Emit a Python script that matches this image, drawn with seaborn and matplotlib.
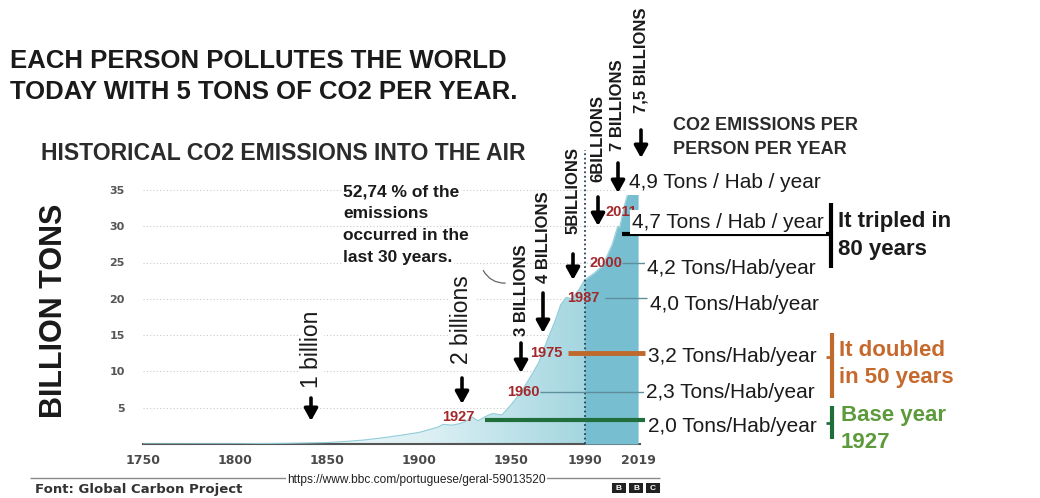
import numpy as np
import pandas as pd
import seaborn as sns
import matplotlib
matplotlib.use("Agg")
import matplotlib.pyplot as plt
from matplotlib.colors import LinearSegmentedColormap
from matplotlib.lines import Line2D
from matplotlib.patches import FancyArrowPatch, Rectangle
from matplotlib.transforms import Affine2D

# ---- data ----
years = [1750, 1800, 1830, 1850, 1860, 1870, 1880, 1890, 1900, 1910, 1913, 1918,
         1922, 1926, 1929, 1932, 1937, 1940, 1945, 1950, 1955, 1960, 1965, 1970,
         1974, 1977, 1980, 1983, 1987, 1990, 1995, 2000, 2002, 2005, 2008, 2009,
         2012, 2014, 2016, 2019]
emissions = [0.01, 0.03, 0.1, 0.2, 0.35, 0.55, 0.85, 1.2, 1.6, 2.3, 2.7, 2.6,
             2.8, 3.2, 3.7, 3.2, 3.9, 4.2, 4.0, 5.4, 7.0, 9.0, 11.2, 14.5,
             17.0, 19.2, 20.2, 20.0, 21.3, 22.6, 23.5, 24.6, 25.8, 27.5, 30.0, 29.8,
             33.2, 35.0, 35.6, 36.4]

x_ticks = [1750, 1800, 1850, 1900, 1950, 1990, 2019]
y_ticks = [5, 10, 15, 20, 25, 30, 35]

pop_labels = ["1 billion", "2 billions", "3 BILLIONS", "4 BILLIONS",
              "5BILLIONS", "6BILLIONS", "7 BILLIONS", "7,5 BILLIONS"]
marker_years = ["1927", "1960", "1975", "1987", "2000", "2011"]
per_person = ["4,9 Tons / Hab / year", "4,7 Tons / Hab / year", "4,2 Tons/Hab/year",
              "4,0 Tons/Hab/year", "3,2 Tons/Hab/year", "2,3 Tons/Hab/year",
              "2,0 Tons/Hab/year"]

W, H = 1040, 498
sns.set_theme(style="white")
plt.rcParams["font.family"] = ["Liberation Sans", "DejaVu Sans"]

fig = plt.figure(figsize=(W / 100, H / 100), dpi=100)
fig.patch.set_facecolor("white")
# axes: 1750 at x=143px, 0 at y=444px, 1.84 px/year, 7.26 px/unit
ax = fig.add_axes([143 / W, (H - 444) / H, 497 / W, 37 * 7.26 / H])
ax.set_facecolor("white")

df = pd.DataFrame({"year": years, "gt": emissions})

# light area with horizontal gradient, darker part after 1990
area = ax.fill_between(df["year"], df["gt"], color="#b5dfe7", lw=0, zorder=1)
cmap = LinearSegmentedColormap.from_list("sky", ["#f1f9fa", "#dcf0f4", "#a4d6e0"])
grad = np.linspace(0, 1, 256).reshape(1, -1)
im = ax.imshow(grad, extent=[1820, 1990, 0, 37], aspect="auto", cmap=cmap, zorder=2)
im.set_clip_path(area.get_paths()[0], transform=ax.transData)
ax.fill_between(df["year"], df["gt"], where=df["year"] >= 1990, color="#76bed0",
                lw=0, zorder=3)
sns.lineplot(data=df, x="year", y="gt", color="#93cdd9", lw=0.8, ax=ax, zorder=4)
ax.plot([1990, 1990], [0, 40.5], ls=(0, (1, 1.5)), color="#2c3e58", lw=1.3,
        clip_on=False, zorder=5)

ax.set_xlim(1750, 2020.1)
ax.set_ylim(0, 37)
ax.set_xticks(x_ticks)
ax.set_yticks(y_ticks)
ax.set_xlabel("")
ax.set_ylabel("")
ax.yaxis.grid(True, ls=(0, (1, 2)), color="#c9c9c9", lw=0.8)
ax.xaxis.grid(False)
sns.despine(ax=ax, left=True)
ax.spines["bottom"].set_color("#555555")
ax.spines["bottom"].set_linewidth(1.5)
ax.tick_params(axis="x", direction="inout", length=5, width=1.5, color="#555555",
               labelsize=9, labelcolor="#4a4a4a", pad=5)
ax.tick_params(axis="y", length=0, labelsize=8, labelcolor="#555555", pad=13)
for lab in ax.get_xticklabels() + ax.get_yticklabels():
    lab.set_fontweight("bold")
    lab.set_fontfamily("DejaVu Sans")

# ---- annotations in picture pixels (x right, y down) ----
P = Affine2D().scale(1 / W, -1 / H).translate(0, 1) + fig.transFigure


def put(x, y, s, **kw):
    kw.setdefault("va", "center")
    kw.setdefault("color", "#1a1a1a")
    return fig.text(x, y, s, transform=P, **kw)


def seg(x0, y0, x1, y1, **kw):
    fig.add_artist(Line2D([x0, x1], [y0, y1], transform=P, solid_capstyle="butt", **kw))


def arrow(x, y0, y1):
    fig.add_artist(FancyArrowPatch((x, y0), (x, y1), transform=P,
                                   arrowstyle="-|>,head_length=0.45,head_width=0.25",
                                   mutation_scale=16, lw=2.6, color="black", zorder=6,
                                   shrinkA=0, shrinkB=0))


put(10, 61, "EACH PERSON POLLUTES THE WORLD", fontsize=18.5, fontweight="bold")
put(10, 92, "TODAY WITH 5 TONS OF CO2 PER YEAR.", fontsize=18.5, fontweight="bold")
put(41, 153, "HISTORICAL CO2 EMISSIONS INTO THE AIR", fontsize=16.6, fontweight="bold",
    color="#2b2b2b")
put(673, 125, "CO2 EMISSIONS PER", fontsize=13, fontweight="bold", color="#2b2b2b")
put(673, 149, "PERSON PER YEAR", fontsize=13, fontweight="bold", color="#2b2b2b")
put(54, 311, "BILLION TONS", fontsize=22, fontweight="bold", rotation=90, ha="center")

for i, line in enumerate(["52,74 % of the", "emissions", "occurred in the",
                          "last 30 years."]):
    put(343, 192 + 21.7 * i, line, fontsize=12.5, fontweight="bold",
        bbox=dict(fc="white", ec="none", pad=1))
fig.add_artist(FancyArrowPatch((482, 268), (508, 283), transform=P, arrowstyle="-",
                               connectionstyle="arc3,rad=0.35", lw=0.9, color="#666666"))

# population milestones: (x, text centre y, arrow top, arrow tip)
pop_pos = [(311, 349, 398, 421), (462, 320, 378, 404), (521, 290, 343, 373),
           (543, 237, 293, 333), (573, 191, 254, 280), (598, 138, 197, 226),
           (618, 105, 163, 193), (641, 60, 130, 158)]
for lab, (x, ty, a0, a1) in zip(pop_labels, pop_pos):
    if lab.islower():
        put(x, ty, lab, fontsize=16.5, rotation=90, ha="center",
            bbox=dict(fc="white", ec="none", pad=1))
    else:
        put(x, ty, lab, fontsize=12, fontweight="bold", rotation=90, ha="center")
    arrow(x, a0, a1)

# leader lines from the curve to the per-person labels
seg(485, 420, 645, 420, color="#1f6e3c", lw=3)
seg(540, 392, 645, 392, color="#5d8f9d", lw=1)
seg(568, 353, 645, 353, color="#c0692c", lw=3.5)
seg(605, 298, 647, 298, color="#5d8f9d", lw=1)
seg(622, 263, 647, 263, color="#5d8f9d", lw=1)
seg(622, 234, 831, 234, color="black", lw=3)

# red year markers (2011 sits partly under the 4,7 label, as in the source)
year_pos = [(458, 417), (523, 392), (546, 353), (583, 298), (606, 263), (621, 212)]
for lab, (x, y) in zip(marker_years, year_pos):
    put(x, y, lab, fontsize=10.5, fontweight="bold", color="#a3282b", ha="center")

pp_pos = [(629, 183), (632, 222), (647, 268), (650, 305), (648, 357), (646, 392),
          (648, 426)]
for lab, (x, y) in zip(per_person, pp_pos):
    put(x, y, lab, fontsize=15, bbox=dict(fc="white", ec="none", pad=1.5))

# brackets
seg(831, 203, 831, 268, color="black", lw=3)
seg(832, 333, 832, 398, color="#c0692c", lw=3)
seg(826, 357, 832, 357, color="#c0692c", lw=2)
seg(832, 406, 832, 439, color="#1f6e3c", lw=3)
seg(826, 423, 832, 423, color="#1f6e3c", lw=2)

put(838, 222, "It tripled in", fontsize=16, fontweight="bold")
put(838, 250, "80 years", fontsize=16, fontweight="bold")
put(839, 350, "It doubled", fontsize=16, fontweight="bold", color="#c5692d")
put(839, 378, "in 50 years", fontsize=16, fontweight="bold", color="#c5692d")
put(841, 415, "Base year", fontsize=16, fontweight="bold", color="#5c9a3c")
put(841, 442, "1927", fontsize=16, fontweight="bold", color="#5c9a3c")

# footer
seg(30, 478, 660, 478, color="#8a8a8a", lw=1)
put(35, 489, "Font: Global Carbon Project", fontsize=9.5, fontweight="bold",
    color="#333333", family="DejaVu Sans")
put(287, 480, "https://www.bbc.com/portuguese/geral-59013520", fontsize=8.6,
    color="#222222", bbox=dict(fc="white", ec="none", pad=1))
for i, ch in enumerate("BBC"):
    x0 = 612 + 17 * i
    fig.add_artist(Rectangle((x0, 483), 14, 10, transform=P, fc="#222222", ec="none"))
    put(x0 + 7, 488.5, ch, fontsize=6, fontweight="bold", color="white", ha="center")

fig.savefig("out.png", dpi=100, facecolor="white")
